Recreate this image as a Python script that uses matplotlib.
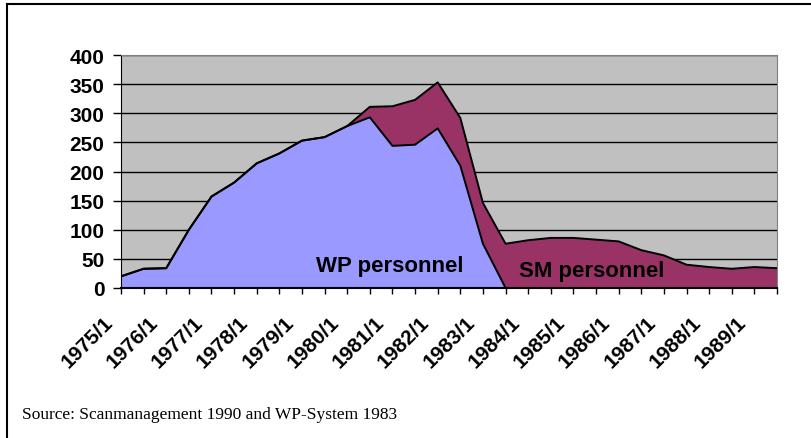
import matplotlib
matplotlib.use("Agg")
import matplotlib.pyplot as plt
from matplotlib.lines import Line2D
from matplotlib.transforms import ScaledTranslation

# Half-year periods 1975/1 .. 1989/2
periods = [f"{y}/{h}" for y in range(1975, 1990) for h in (1, 2)]

wp_personnel = [20, 33, 34, 100, 157, 181, 214, 231, 253, 259,
                278, 293, 244, 246, 274, 210, 76, 0, 0, 0,
                0, 0, 0, 0, 0, 0, 0, 0, 0, 0]
sm_personnel = [0, 0, 0, 0, 0, 0, 0, 0, 0, 0,
                0, 18, 68, 77, 79, 82, 70, 76, 82, 86,
                86, 83, 80, 65, 56, 40, 36, 33, 36, 34]

tick_labels = [p if p.endswith("/1") else "" for p in periods]
y_ticks = [0, 50, 100, 150, 200, 250, 300, 350, 400]

W, H = 812, 439
fig = plt.figure(figsize=(W / 100, H / 100), dpi=100)
ax = fig.add_axes([121 / W, 1 - 289 / H, (777 - 121) / W, (289 - 56) / H])

x = list(range(len(periods)))
total = [a + b for a, b in zip(wp_personnel, sm_personnel)]

ax.set_facecolor("#C0C0C0")
ax.stackplot(x, wp_personnel, sm_personnel, colors=["#9999FF", "#993366"], zorder=2)
ax.plot(x, total, color="black", lw=1.4, zorder=3)
ax.plot(x, wp_personnel, color="black", lw=1.4, zorder=3)

# Gridlines
ax.set_yticks(y_ticks)
ax.yaxis.grid(True, color="black", lw=1.0, zorder=1)
ax.set_axisbelow(True)

ax.set_xlim(0, len(periods) - 1)
ax.set_ylim(0, 400)
ax.set_xticks(x)
ax.set_xticklabels(tick_labels, rotation=45, ha="right", va="top",
                   rotation_mode="anchor")

for lab in ax.get_xticklabels() + ax.get_yticklabels():
    lab.set_fontfamily("Liberation Sans")
    lab.set_fontweight("bold")
    lab.set_fontsize(15)

ax.tick_params(axis="x", length=4.5, width=1, direction="out", pad=0)
ax.tick_params(axis="y", length=6, width=1, direction="out", pad=6)

# Shift rotated labels down-left like the original
shift = ScaledTranslation(-18 / 100, -18 / 100, fig.dpi_scale_trans)
for lab in ax.get_xticklabels():
    lab.set_transform(lab.get_transform() + shift)

ax.spines["left"].set_color("black")
ax.spines["bottom"].set_color("black")
ax.spines["bottom"].set_linewidth(1.5)
ax.spines["top"].set_color("#808080")
ax.spines["right"].set_color("#808080")

# Series labels
ax.text(11.88, 28.7, "WP personnel", ha="center", va="baseline", fontsize=16,
        fontweight="bold", fontfamily="Liberation Sans", zorder=4)
ax.text(20.82, 21.2, "SM personnel", ha="center", va="baseline", fontsize=16,
        fontweight="bold", fontfamily="Liberation Sans", zorder=4)

# Source note
fig.text(22 / W, 1 - 419 / H, "Source: Scanmanagement 1990 and WP-System 1983",
         ha="left", va="baseline", fontsize=12.5, fontfamily="Liberation Serif")

# Chart area border (top and left visible)
fig.add_artist(Line2D([7 / W, 1], [1 - 5 / H, 1 - 5 / H], color="black", lw=1.5,
                      transform=fig.transFigure))
fig.add_artist(Line2D([7 / W, 7 / W], [0, 1 - 5 / H], color="black", lw=1.5,
                      transform=fig.transFigure))

fig.savefig("out.png", dpi=100)
